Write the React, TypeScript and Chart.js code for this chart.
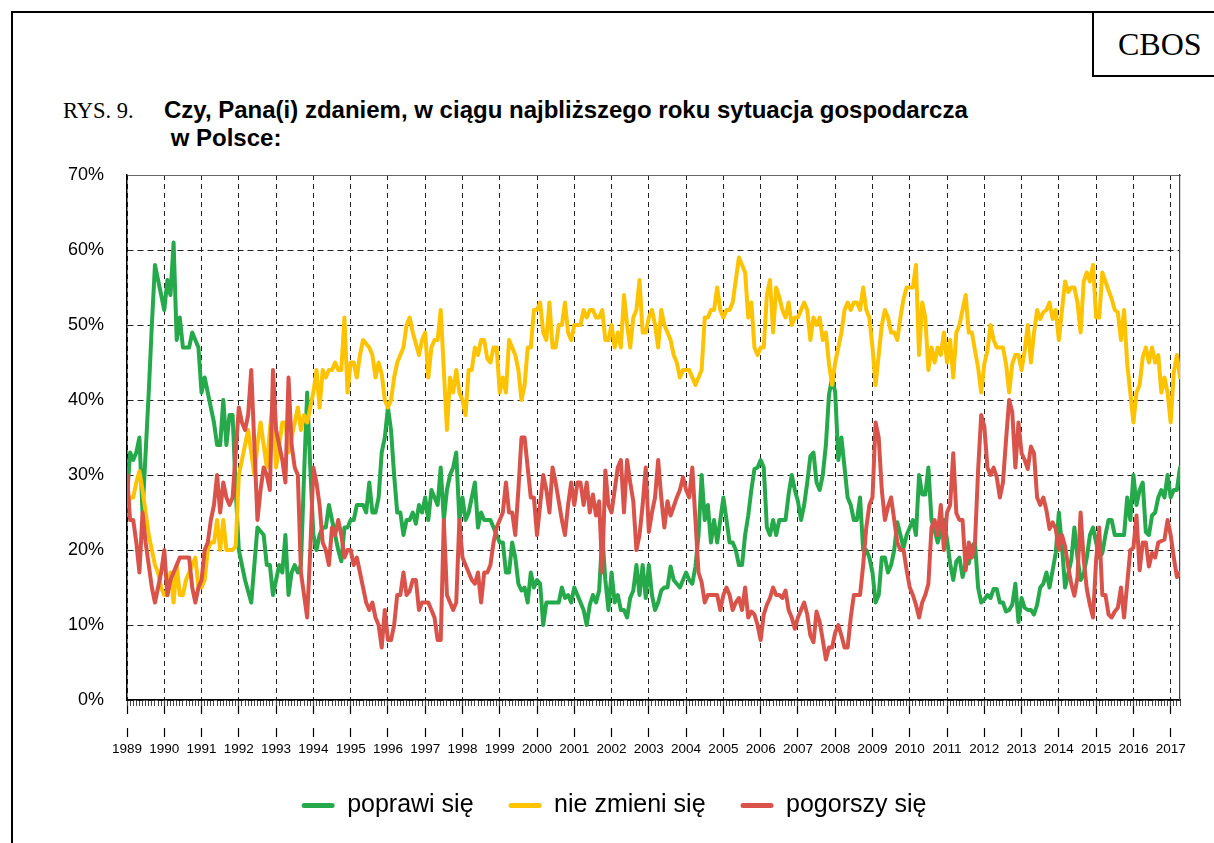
import React, { useEffect, useRef } from 'react';
import { Chart, registerables } from 'chart.js';

Chart.register(...registerables);

// ---- data (monthly, Jan 1989 – Apr 2017), values in % ----
const YEARS = ['1989', '1990', '1991', '1992', '1993', '1994', '1995', '1996', '1997', '1998',
  '1999', '2000', '2001', '2002', '2003', '2004', '2005', '2006', '2007', '2008',
  '2009', '2010', '2011', '2012', '2013', '2014', '2015', '2016', '2017'];

const POPRAWI = [
  27, 33, 32, 33, 35, 25, 33, 41, 50, 58, 56, 54,
  52, 56, 54, 61, 48, 51, 47, 47, 47, 49, 48, 47,
  41, 43, 41, 39, 37, 34, 34, 40, 34, 38, 38, 28,
  20, 18, 16, 14.5, 13, 18, 23, 22.5, 22, 18, 18, 14,
  16, 18, 17, 22, 14, 17, 18, 17, 18, 30, 41, 31,
  22, 20, 22, 23, 23, 26, 24, 22, 20, 18.5, 23, 23,
  24, 24, 26, 26, 26, 25, 29, 25, 25, 27, 33, 35,
  39, 36, 30, 25, 25, 22, 24, 24, 25, 23.5, 26, 25,
  27, 24, 28, 27, 26, 31, 24, 28, 30, 31, 33, 24,
  27, 24, 25, 27, 29, 23, 25, 24, 24, 24, 23, 22,
  21, 21, 17, 17, 21, 19, 15.5, 14.6, 15, 13, 17, 15,
  16, 15.5, 10, 13, 13, 13, 13, 13, 15, 13.6, 14, 13,
  15, 14, 13, 12, 10, 12.7, 14, 13, 14.6, 22, 16, 12,
  17, 13, 14, 12, 12, 11, 13.6, 14.6, 18, 14, 18, 13.6,
  18, 14, 12, 13, 14.6, 15, 15, 17.8, 16, 15.5, 15, 16,
  17, 16, 15.5, 17.8, 22, 30, 24, 26, 21, 24, 21, 24,
  27, 24, 21, 21, 20, 18, 18, 22, 24.6, 28, 30.8, 31,
  32, 31, 23, 22, 24, 22, 24, 24, 24, 27.4, 30, 28,
  26.5, 24, 26, 29, 32.5, 33, 29, 28, 30, 34, 40.7, 43,
  41, 32, 35, 31, 27, 26, 24, 24, 27, 20, 20, 19,
  17, 13, 14, 19, 19, 17, 18, 20, 23.7, 22, 20.3, 22,
  23, 24, 22, 30, 27.4, 27.4, 31, 24, 22.6, 21, 22.5, 24,
  21.4, 18.2, 16, 18.5, 19, 16.4, 18.2, 18.2, 20.5, 21, 15, 13,
  13.4, 14, 13.6, 14.8, 14.8, 13, 13, 11.8, 12, 12.7, 15.5, 10.4,
  13.6, 12.3, 12, 12, 11.4, 12.7, 15, 15.5, 17, 15, 17.3, 19.6,
  25, 20.5, 15, 16.8, 18.7, 23, 19, 16, 16.8, 19, 22, 23,
  21, 19, 19.6, 22, 24, 24, 22, 22, 22, 22, 27, 24,
  30, 26, 28, 29, 22.4, 22, 24.6, 25, 27, 28, 27, 30,
  27, 28, 28, 31,
];

const NIE_ZMIENI = [
  26, 27, 27, 29, 30.5, 28, 25, 22, 20, 18, 17, 15,
  14, 14, 17, 13, 18, 14, 14, 16, 17, 18, 19, 15,
  15, 16, 20, 21, 21, 24, 20, 24, 20, 20, 20, 20.5,
  30, 32, 34, 36, 33, 30, 34, 37, 34, 31, 36, 40,
  31, 34, 37, 37, 33, 35, 37, 39, 36, 38, 37, 39,
  41, 44, 39, 44, 43, 44, 44, 45, 44, 44, 51, 41,
  45, 45, 43, 46, 48, 47.5, 47, 46, 43, 45, 43.5, 40,
  39, 40, 43, 45, 46, 47, 50, 51, 49, 47.5, 46, 48,
  49, 43, 47, 48, 48, 52, 44, 36, 43, 41, 44, 41,
  40, 38, 44, 44, 47, 46, 48, 48, 45.5, 45, 47, 47,
  41, 43, 41, 48, 47, 46, 44, 40, 42, 47, 47, 52,
  52, 53, 49, 48, 53, 47, 47, 50, 50, 53, 49, 48,
  50, 50, 50, 52, 51, 52, 52, 51, 51, 52, 48, 48,
  50, 47, 49, 47, 54, 50, 47, 51, 52, 56, 49, 49,
  51, 52, 50, 47, 52, 50, 49, 48, 46, 45, 43, 44,
  44, 44, 43, 42, 43, 44, 51, 51, 52, 52, 55, 52,
  51, 52, 52, 53, 56, 59, 58, 57, 51, 53, 47, 46,
  47, 47, 54, 56, 49, 55, 53.7, 52, 51, 53, 50, 51,
  51, 52, 53, 52, 48, 51, 50, 51, 48, 49, 44.8, 42,
  45, 47, 49, 52, 53, 52, 53, 53, 52, 55, 52, 51,
  47, 42, 46, 50, 52, 51, 49, 49, 48, 51, 53.5, 55,
  55, 55, 58, 46, 53, 51, 44, 47, 45, 47, 46, 49,
  45, 48, 43, 49, 50, 52, 54, 49, 49, 46.6, 44.3, 41,
  44.8, 46.6, 50, 48, 47, 47, 47, 44.8, 41, 44.8, 46, 46,
  44, 46.6, 50, 45, 49, 52, 50.8, 51.7, 52, 53, 50.8, 52,
  48, 52, 55.8, 54.4, 55, 55, 53, 49, 55.8, 57, 55.8, 58,
  51, 51, 57, 55.8, 54.6, 53.5, 52, 51.7, 48, 52, 44.8, 41,
  37, 41, 42, 45.7, 47, 45, 47, 45, 46, 41, 43, 41,
  37, 43.7, 46, 43,
];

const POGORSZY = [
  30, 24, 24, 21, 17, 25, 21, 18, 15, 13, 15, 17,
  20, 14, 16, 17, 18, 19, 19, 19, 19, 15, 13, 15,
  16, 20, 21, 24, 26, 30, 25, 29, 27, 26, 27, 33,
  39, 37, 36, 38, 44, 34, 24, 28, 31, 30, 28, 44,
  36, 34, 32, 29, 43, 34, 31, 30, 17, 14, 11, 20,
  31, 29, 26, 21, 20, 18, 23, 22, 24, 22, 19, 20,
  20, 18, 19, 17, 15, 13, 12, 13, 11, 10, 7, 12,
  8, 8, 10, 14, 14, 17, 14, 14.5, 16, 16, 12, 13,
  13, 13, 12, 11, 8, 8, 24, 14, 13, 12, 13, 24,
  19, 18, 17, 16, 15.5, 17, 13, 17, 17, 18, 21, 23,
  24, 25, 29, 25, 25, 22, 28, 35, 35, 31, 27, 27,
  22, 26, 30, 28, 25, 31, 29, 26.5, 24, 22, 26, 29,
  26, 29, 29, 26, 29, 25, 27.4, 24.6, 26.5, 17, 30.6, 26,
  25, 28, 31, 32, 25, 32, 29, 26.5, 20, 22, 26, 31,
  22.4, 25, 27, 32, 27, 23, 26.5, 24.6, 25.8, 27, 28, 29.7,
  28, 27, 31, 24, 17, 15.7, 13, 14, 14, 14, 14, 12,
  14, 15, 14, 12, 13, 13.6, 12, 15, 11, 11.8, 11.4, 10,
  8, 11.4, 12.7, 13.6, 15, 14, 14, 13.6, 14.6, 12, 11, 9.5,
  11, 12, 13, 11.4, 8.6, 7.7, 11.8, 10.4, 8, 5.4, 7, 7,
  9, 10, 8.6, 7, 7, 11, 14, 14, 14, 18, 23, 26,
  27, 37, 35, 28, 24, 25.8, 27, 24, 21, 20, 20, 17.3,
  15, 14, 12.7, 11, 13, 14, 15.5, 23, 24, 22, 26, 20,
  25, 26, 32.9, 24.9, 24, 24, 17.3, 21, 19, 21, 30.6, 38,
  36.5, 31, 30, 31, 29.7, 27, 29, 34.7, 40, 38.4, 31, 37,
  32.9, 32, 30.8, 33.8, 32.9, 27, 26, 27, 25.3, 22.8, 23.7, 22.8,
  20, 22, 20.5, 17.8, 15.5, 13.9, 16.4, 25, 18.7, 14.8, 12.7, 11,
  18.7, 23, 14, 14, 11.4, 11, 11.8, 12.3, 15, 11, 15.5, 20,
  20.3, 24.6, 17.3, 21, 21, 17.8, 19.6, 19, 21, 21.2, 21.4, 24,
  22, 19, 16.4, 17,
];

const SERIES_LABELS = ['poprawi się', 'nie zmieni się', 'pogorszy się'];
const SERIES_COLORS = ['#25A94B', '#FDC300', '#D9534A'];
const Y_MAX = 70;
const Y_STEP = 10;

const TITLE_PREFIX = 'RYS. 9.';
const TITLE_LINE1 = 'Czy, Pana(i) zdaniem, w ciągu najbliższego roku sytuacja gospodarcza';
const TITLE_LINE2 = ' w Polsce:';
const BRAND = 'CBOS';

const SANS = 'Arial, "Liberation Sans", Helvetica, sans-serif';
const SERIF = '"Times New Roman", "Liberation Serif", Times, serif';

export default function App() {
  const canvasRef = useRef<HTMLCanvasElement | null>(null);

  useEffect(() => {
    document.body.style.margin = '0';
    const canvas = canvasRef.current;
    if (!canvas) return;
    const last = POPRAWI.length - 1;
    const yearTicks = () => YEARS.map((_, i) => ({ value: i * 12 }));
    const monthTicks = () => POPRAWI.map((_, i) => ({ value: i }));
    const toPoints = (arr: number[]) => arr.map((v, i) => ({ x: i, y: v }));
    const seriesData = [POPRAWI, NIE_ZMIENI, POGORSZY];

    const chart = new Chart(canvas, {
      type: 'line',
      data: {
        datasets: seriesData.map((arr, k) => ({
          label: SERIES_LABELS[k],
          data: toPoints(arr),
          borderColor: SERIES_COLORS[k],
          backgroundColor: SERIES_COLORS[k],
          borderWidth: 4,
          pointRadius: 0,
          tension: 0,
          borderJoinStyle: 'round',
          borderCapStyle: 'round',
          xAxisID: 'x',
          yAxisID: 'y',
          order: 3 - k,
        })),
      },
      options: {
        animation: false,
        responsive: false,
        maintainAspectRatio: false,
        events: [],
        layout: { padding: { left: 48, right: 34, top: 25, bottom: 15 } },
        plugins: {
          tooltip: { enabled: false },
          title: { display: false },
          legend: {
            position: 'bottom',
            labels: {
              font: { family: SANS, size: 25 },
              color: '#000',
              boxWidth: 33,
              boxHeight: 5,
              padding: 35,
              sort: (a: any, b: any) => a.datasetIndex - b.datasetIndex,
              generateLabels: (c: any) =>
                (Chart as any).defaults.plugins.legend.labels
                  .generateLabels(c)
                  .map((l: any) => ({ ...l, lineWidth: 0, borderRadius: 2.5 })),
            },
          },
        },
        scales: {
          x: {
            type: 'linear',
            axis: 'x',
            position: 'bottom',
            min: 0,
            max: last,
            weight: 0,
            afterBuildTicks: (s: any) => { s.ticks = yearTicks(); },
            afterFit: (s: any) => { s.height = 28; },
            ticks: { display: false },
            grid: {
              color: '#222',
              lineWidth: 1,
              drawTicks: true,
              tickLength: 14,
              tickColor: '#000',
              tickWidth: 1.2,
              tickBorderDash: [],
            },
            border: { display: true, color: '#000', width: 1.5, dash: [5, 4] },
          },
          xMinor: {
            type: 'linear',
            axis: 'x',
            position: { y: 0 },
            min: 0,
            max: last,
            afterBuildTicks: (s: any) => { s.ticks = monthTicks(); },
            ticks: { display: false },
            grid: {
              drawOnChartArea: false,
              drawTicks: true,
              tickLength: 6,
              tickColor: '#444',
              tickWidth: 1,
              tickBorderDash: [],
            },
            border: { display: false },
          },
          xLabels: {
            type: 'linear',
            axis: 'x',
            position: 'bottom',
            min: 0,
            max: last,
            weight: 1,
            afterBuildTicks: (s: any) => { s.ticks = yearTicks(); },
            afterFit: (s: any) => { s.height = 30; },
            ticks: {
              display: true,
              autoSkip: false,
              maxRotation: 0,
              minRotation: 0,
              padding: 4,
              color: '#000',
              font: { family: SANS, size: 13.5 },
              callback: (v: any) => YEARS[Math.round(Number(v) / 12)],
            },
            grid: {
              drawOnChartArea: false,
              drawTicks: true,
              tickLength: 9,
              tickColor: '#000',
              tickWidth: 1.2,
              tickBorderDash: [],
            },
            border: { display: false },
          },
          xTop: {
            type: 'linear',
            axis: 'x',
            position: 'top',
            min: 0,
            max: last,
            afterFit: (s: any) => { s.height = 0; },
            ticks: { display: false },
            grid: { display: false, drawTicks: false },
            border: { display: true, color: '#666', width: 1 },
          },
          y: {
            type: 'linear',
            axis: 'y',
            position: 'left',
            min: 0,
            max: Y_MAX,
            afterFit: (s: any) => { s.width = 79; s.paddingTop = 10; s.paddingBottom = 10; },
            ticks: {
              stepSize: Y_STEP,
              padding: 23,
              color: '#000',
              font: { family: SANS, size: 18 },
              callback: (v: any) => `${v}%`,
            },
            grid: { color: '#222', lineWidth: 1, drawTicks: false },
            border: { display: true, color: '#000', width: 1.5, dash: [6, 4] },
          },
          yRight: {
            type: 'linear',
            axis: 'y',
            position: 'right',
            min: 0,
            max: Y_MAX,
            afterFit: (s: any) => { s.width = 0; s.paddingTop = 0; s.paddingBottom = 0; },
            ticks: { display: false },
            grid: { display: false, drawTicks: false },
            border: { display: true, color: '#444', width: 1.2 },
          },
        },
      } as any,
    });
    return () => chart.destroy();
  }, []);

  return (
    <div style={{ position: 'relative', width: 1214, height: 843, background: '#fff', overflow: 'hidden' }}>
      <div style={{ position: 'absolute', left: 11, top: 11, width: 1210, height: 840, borderLeft: '2px solid #000', borderTop: '2px solid #000' }} />
      <div style={{ position: 'absolute', left: 1092, top: 11, width: 130, height: 64, borderLeft: '2px solid #000', borderBottom: '2px solid #000' }} />
      <div style={{ position: 'absolute', left: 1118, top: 26, fontFamily: SERIF, fontSize: 32, lineHeight: '36px', color: '#000' }}>{BRAND}</div>
      <div style={{ position: 'absolute', left: 63, top: 98, fontFamily: SERIF, fontSize: 22.5, lineHeight: '26px', color: '#000' }}>{TITLE_PREFIX}</div>
      <div style={{ position: 'absolute', left: 164, top: 96, fontFamily: SANS, fontWeight: 'bold', fontSize: 24, lineHeight: '28px', whiteSpace: 'pre', color: '#000' }}>
        {TITLE_LINE1 + '\n' + TITLE_LINE2}
      </div>
      <canvas
        ref={canvasRef}
        width={1214}
        height={693}
        style={{ position: 'absolute', left: 0, top: 150, width: 1214, height: 693 }}
      />
    </div>
  );
}
